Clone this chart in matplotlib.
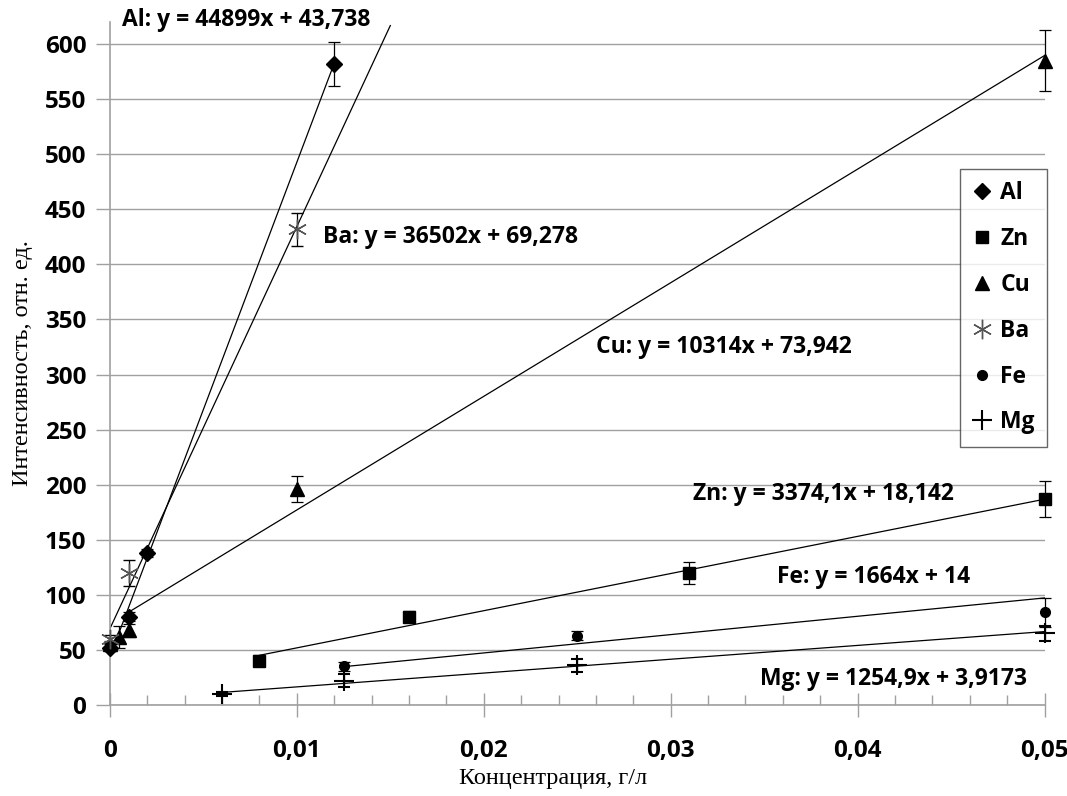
import matplotlib.pyplot as plt
from matplotlib.lines import Line2D
import numpy as np

# Data
al_x = [0, 0.001, 0.002, 0.012]
al_y = [52, 80, 138, 582]
al_err = [3, 4, 4, 20]

zn_x = [0.008, 0.016, 0.031, 0.05]
zn_y = [40, 80, 120, 187]
zn_err = [5, 5, 10, 16]

cu_x = [0, 0.0005, 0.001, 0.01, 0.05]
cu_y = [55, 62, 68, 196, 585]
cu_err = [3, 10, 6, 12, 28]

ba_x = [0, 0.001, 0.01]
ba_y = [60, 120, 432]
ba_err = [4, 12, 15]

fe_x = [0.0125, 0.025, 0.05]
fe_y = [35, 63, 84]
fe_err = [4, 4, 13]

mg_x = [0.006, 0.0125, 0.025, 0.05]
mg_y = [10, 22, 36, 65]
mg_err = [2, 6, 6, 7]

# trendlines: slope, intercept, x range, label text
trends = {
    'Al': (44899, 43.738, (0, 0.012), 'Al: y = 44899x + 43,738'),
    'Ba': (36502, 69.278, (0, 0.015), 'Ba: y = 36502x + 69,278'),
    'Cu': (10314, 73.942, (0.001, 0.05), 'Cu: y = 10314x + 73,942'),
    'Zn': (3374.1, 18.142, (0.008, 0.05), 'Zn: y = 3374,1x + 18,142'),
    'Fe': (1664, 14, (0.0125, 0.05), 'Fe: y = 1664x + 14'),
    'Mg': (1254.9, 3.9173, (0.006, 0.05), 'Mg: y = 1254,9x + 3,9173'),
}
label_pos = {
    'Al': (0.00064, 622), 'Ba': (0.0114, 425), 'Cu': (0.026, 325),
    'Zn': (0.0312, 192), 'Fe': (0.0357, 116), 'Mg': (0.0348, 24),
}

bold_font = 'Open Sans'
ba_color = '#555555'

fig = plt.figure(figsize=(10.67, 7.96), dpi=100)
ax = fig.add_axes([0.103, 0.1143, 0.876, 0.858])

# trendlines
for name, (k, b, (x0, x1), txt) in trends.items():
    xs = np.array([x0, x1])
    ax.plot(xs, k * xs + b, color='black', lw=0.9, zorder=2)
    tx, ty = label_pos[name]
    ax.text(tx, ty, txt, fontsize=16.5, fontweight='bold', family=bold_font,
            va='center', ha='left', zorder=5)

err_kw = dict(ecolor='black', elinewidth=0.9, capsize=4, capthick=0.9, ls='none', zorder=3)
series = [
    ('Al', al_x, al_y, al_err, dict(marker='D', ms=8, color='black')),
    ('Zn', zn_x, zn_y, zn_err, dict(marker='s', ms=9, color='black')),
    ('Cu', cu_x, cu_y, cu_err, dict(marker='^', ms=10, color='black')),
    ('Ba', ba_x, ba_y, ba_err, dict(marker=(6, 2, 0), ms=14, color=ba_color, mec=ba_color, mew=1)),
    ('Fe', fe_x, fe_y, fe_err, dict(marker='o', ms=7, color='black')),
    ('Mg', mg_x, mg_y, mg_err, dict(marker='+', ms=14, mew=1.5, color='black')),
]
handles = []
for name, x, y, e, mk in series:
    cont = ax.errorbar(x, y, yerr=e, **mk, **err_kw)
    for art in cont.lines[0:1] + tuple(cont.lines[1]) + tuple(cont.lines[2]):
        art.set_clip_on(False)
    handles.append(Line2D([], [], ls='none', label=name, **mk))

ax.set_xlim(0, 0.05)
ax.set_ylim(0, 620)
ax.set_yticks(np.arange(0, 601, 50))
ax.set_xticks([0, 0.01, 0.02, 0.03, 0.04, 0.05])
ax.set_xticklabels(['0', '0,01', '0,02', '0,03', '0,04', '0,05'])
ax.set_xticks(np.arange(0, 0.0501, 0.002), minor=True)
ax.grid(axis='y', color='#a0a0a0', lw=1)
ax.set_axisbelow(True)

for s in ['top', 'right']:
    ax.spines[s].set_visible(False)
for s in ['left', 'bottom']:
    ax.spines[s].set_color('#a0a0a0')
    ax.spines[s].set_linewidth(1.2)

ax.tick_params(axis='y', length=10, color='#a0a0a0', width=1, pad=7)
ax.tick_params(axis='x', which='major', direction='inout', length=17, color='#a0a0a0', width=1, pad=16)
ax.tick_params(axis='x', which='minor', direction='in', length=7, color='#a0a0a0', width=1)
for lab in ax.get_xticklabels() + ax.get_yticklabels():
    lab.set_fontfamily(bold_font)
    lab.set_fontweight('bold')
    lab.set_fontsize(17.5)

ax.set_xlabel('Концентрация, г/л', family='Liberation Serif', fontsize=17.5)
ax.xaxis.set_label_coords(0.474, -0.092)
ax.set_ylabel('Интенсивность, отн. ед.', family='Liberation Serif', fontsize=17.5)
ax.yaxis.set_label_coords(-0.082, 0.5)

leg = ax.legend(handles=handles, loc='upper right', bbox_to_anchor=(1.003, 0.785), frameon=True,
                fancybox=False, edgecolor='#404040', labelspacing=0.95, handlelength=0.8,
                handletextpad=0.4, borderpad=0.55, borderaxespad=0,
                prop={'family': bold_font, 'weight': 'bold', 'size': 16.5})
leg.get_frame().set_linewidth(1)

fig.savefig('out.png', dpi=100)
